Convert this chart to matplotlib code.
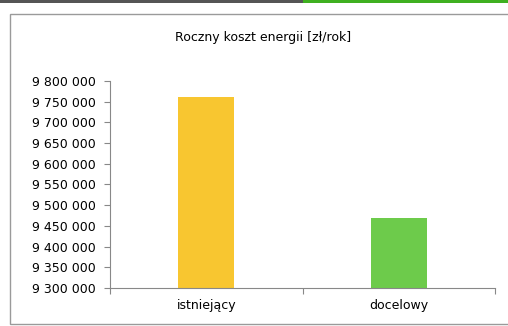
import numpy as np
import matplotlib.pyplot as plt
from matplotlib.patches import Rectangle
from matplotlib.ticker import FuncFormatter

categories = ['istniejący', 'docelowy']
costs = [9762000, 9468000]
bar_colors = ['#F8C630', '#6DCB4B']
y_ticks = list(range(9300000, 9800001, 50000))


def fmt_space(v, pos):
    return f'{int(v):,}'.replace(',', ' ')


fig = plt.figure(figsize=(5.08, 3.26), dpi=100)
W, H = 508, 326

# table strip above the chart and the chart frame
fig.patches.append(Rectangle((0, 1 - 3 / H), 1, 3 / H, transform=fig.transFigure,
                             facecolor='#555555', edgecolor='none', zorder=-5))
fig.patches.append(Rectangle((303 / W, 1 - 3 / H), 1, 3 / H, transform=fig.transFigure,
                             facecolor='#3FB020', edgecolor='none', zorder=-5))
fig.patches.append(Rectangle((10 / W, 1 - 324 / H), 1, (324 - 14) / H, transform=fig.transFigure,
                             facecolor='white', edgecolor='#9a9a9a', linewidth=1.0, zorder=-5))

ax = fig.add_axes([110 / W, 1 - 288 / H, (495 - 110) / W, (288 - 81) / H])
ax.patch.set_alpha(0)
x = np.arange(len(categories))
ax.bar(x, costs, width=0.29, color=bar_colors, bottom=0)

ax.set_ylim(9300000, 9800000)
ax.set_xlim(-0.5, 1.5)
ax.set_yticks(y_ticks)
ax.yaxis.set_major_formatter(FuncFormatter(fmt_space))
ax.set_xticks([-0.5, 0.5, 1.5])
ax.set_xticklabels([])
ax.set_xticks(x, minor=True)
ax.set_xticklabels(categories, minor=True)
ax.tick_params(axis='x', which='minor', length=0, pad=8, labelsize=9)
ax.tick_params(axis='x', which='major', length=4, color='#888888', direction='out')
ax.tick_params(axis='y', length=4, color='#888888', direction='out', labelsize=9, pad=6)

for s in ['top', 'right']:
    ax.spines[s].set_visible(False)
for s in ['left', 'bottom']:
    ax.spines[s].set_color('#888888')
    ax.spines[s].set_linewidth(0.8)

fig.text(263 / W, 1 - 38 / H, 'Roczny koszt energii [zł/rok]', ha='center', va='center', fontsize=9)

fig.savefig('out.png', dpi=100)
